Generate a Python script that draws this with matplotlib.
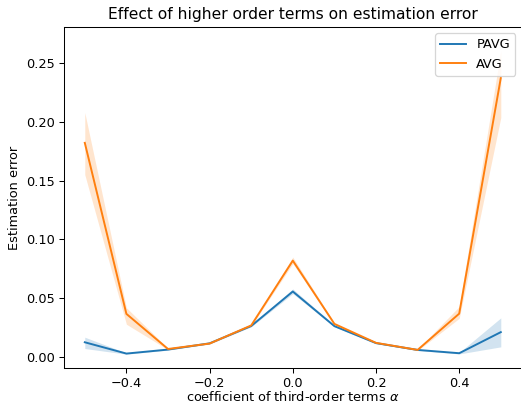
import matplotlib
matplotlib.use("Agg")
import matplotlib.pyplot as plt
import numpy as np

alpha = [-0.5, -0.4, -0.3, -0.2, -0.1, 0.0, 0.1, 0.2, 0.3, 0.4, 0.5]

pavg = [0.0127, 0.0031, 0.0065, 0.0118, 0.0265, 0.0558, 0.0264, 0.0120, 0.0062, 0.0034, 0.0213]
pavg_lo = [0.0074, 0.0026, 0.0060, 0.0113, 0.0258, 0.0540, 0.0258, 0.0115, 0.0057, 0.0028, 0.0088]
pavg_hi = [0.0170, 0.0036, 0.0070, 0.0123, 0.0272, 0.0580, 0.0270, 0.0125, 0.0067, 0.0040, 0.0334]

avg = [0.182, 0.0368, 0.0070, 0.0116, 0.0270, 0.0820, 0.0283, 0.0122, 0.0062, 0.0370, 0.2370]
avg_lo = [0.155, 0.0280, 0.0064, 0.0111, 0.0263, 0.0795, 0.0276, 0.0117, 0.0056, 0.0330, 0.2035]
avg_hi = [0.2077, 0.0420, 0.0076, 0.0121, 0.0277, 0.0850, 0.0290, 0.0127, 0.0068, 0.0430, 0.2600]

DPI = 92.7
fig = plt.figure(figsize=(521 / DPI, 404 / DPI), dpi=DPI)
ax = fig.add_axes([64 / 521, 1 - 368.3 / 404, 457.6 / 521, (368.3 - 26.7) / 404])

ax.plot(alpha, pavg, color="#1f77b4", label="PAVG")
ax.fill_between(alpha, pavg_lo, pavg_hi, color="#1f77b4", alpha=0.2, linewidth=0)
ax.plot(alpha, avg, color="#ff7f0e", label="AVG")
ax.fill_between(alpha, avg_lo, avg_hi, color="#ff7f0e", alpha=0.2, linewidth=0)

ax.set_ylim(-0.0094, 0.2806)
ax.set_xlim(-0.55, 0.55)
ax.set_title("Effect of higher order terms on estimation error")
ax.set_xlabel(r"coefficient of third-order terms $\alpha$", labelpad=0)
ax.set_ylabel("Estimation error")
ax.legend(loc="upper right")

fig.savefig("out.png", dpi=DPI)
